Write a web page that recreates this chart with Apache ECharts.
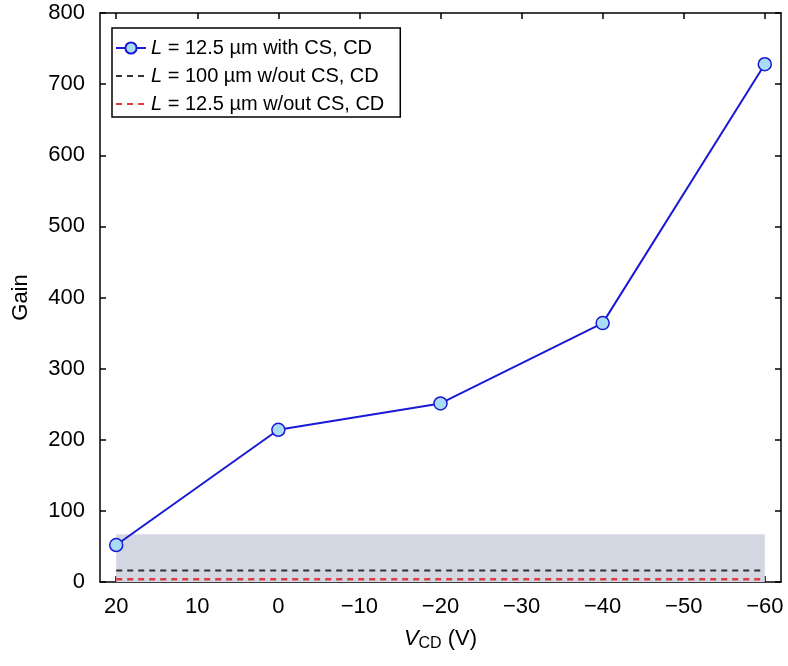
<!DOCTYPE html>
<html>
<head>
<meta charset="utf-8">
<script src="https://cdn.jsdelivr.net/npm/echarts@6/dist/echarts.min.js"></script>
<style>html,body{margin:0;padding:0;background:#fff}#c{width:788px;height:666px}</style>
</head>
<body>
<div id="c"></div>
<script>
const vcd = [20, 0, -20, -40, -60];
const gainWithCS = [52, 214, 251, 364, 728];
const gain100NoCS = 16;
const gain125NoCS = 4;
const bandTop = 67;
const xTicks = [20, 10, 0, -10, -20, -30, -40, -50, -60];
const yTicks = [0, 100, 200, 300, 400, 500, 600, 700, 800];
const seriesNames = ['L = 12.5 µm with CS, CD', 'L = 100 µm w/out CS, CD', 'L = 12.5 µm w/out CS, CD'];

const font = 'Liberation Sans, Arial, Helvetica, sans-serif';
const chart = echarts.init(document.getElementById('c'));
const xLine = (v) => [[vcd[0], v], [vcd[vcd.length - 1], v]];

const axisLineStyle = { show: true, onZero: false, lineStyle: { color: '#000', width: 1.5 } };
const baseX = {
  type: 'value', min: -62, max: 22, inverse: true,
  axisLine: axisLineStyle,
  splitLine: { show: false },
  axisTick: { show: true, inside: true, length: 6, lineStyle: { color: '#000', width: 1.5 }, customValues: xTicks },
};
const baseY = {
  type: 'value', min: 0, max: 800,
  axisLine: axisLineStyle,
  splitLine: { show: false },
  axisTick: { show: true, inside: true, length: 6, lineStyle: { color: '#000', width: 1.5 }, customValues: yTicks },
};

const legendFont = 20;
chart.setOption({
  animation: false,
  backgroundColor: '#fff',
  textStyle: { fontFamily: font },
  grid: { left: 100, right: 7, top: 13, bottom: 84 },
  legend: {
    data: [
      { name: seriesNames[0] },
      { name: seriesNames[1], itemStyle: { opacity: 0 } },
      { name: seriesNames[2], itemStyle: { opacity: 0 } },
    ],
    orient: 'vertical',
    left: 112, top: 28,
    padding: [10, 16, 3, 3],
    itemGap: 8,
    itemWidth: 30, itemHeight: 14,
    borderColor: '#000', borderWidth: 1.5, borderRadius: 0,
    backgroundColor: '#fff',
    textStyle: {
      fontSize: legendFont, color: '#000', fontFamily: font, lineHeight: 20,
      rich: { i: { fontStyle: 'italic', fontSize: legendFont, fontFamily: font, color: '#000', lineHeight: 20 } }
    },
    formatter: (n) => '{i|L}' + n.slice(1),
  },
  xAxis: [
    Object.assign({}, baseX, {
      position: 'bottom',
      axisLabel: { show: true, fontSize: 22, color: '#000', margin: 14, customValues: xTicks,
        formatter: (v) => (v < 0 ? '\u2212' + (-v) : String(v)) },
      name: '{i|V}{s|CD} (V)',
      nameLocation: 'middle', nameGap: 44,
      nameTextStyle: { fontSize: 22, color: '#000', fontFamily: font,
        rich: { i: { fontStyle: 'italic', fontSize: 22, color: '#000', fontFamily: font },
                s: { fontSize: 16, color: '#000', verticalAlign: 'bottom', padding: [10, 0, 0, 0], fontFamily: font } } },
    }),
    Object.assign({}, baseX, { position: 'top', axisLabel: { show: false } }),
  ],
  yAxis: [
    Object.assign({}, baseY, {
      position: 'left',
      axisLabel: { show: true, fontSize: 22, color: '#000', margin: 15, customValues: yTicks },
      name: 'Gain', nameLocation: 'middle', nameGap: 68,
      nameTextStyle: { fontSize: 22, color: '#000', fontFamily: font },
    }),
    Object.assign({}, baseY, { position: 'right', axisLabel: { show: false } }),
  ],
  series: [
    {
      name: 'band', type: 'line', data: [], silent: true,
      markArea: {
        silent: true,
        itemStyle: { color: '#d3d7e1' },
        data: [[{ coord: [vcd[0], 0] }, { coord: [vcd[vcd.length - 1], bandTop] }]],
      },
      z: 1,
    },
    {
      name: seriesNames[1], type: 'line', data: xLine(gain100NoCS), symbol: 'none',
      lineStyle: { color: '#333', width: 2, type: [6, 5] }, itemStyle: { color: '#333' }, z: 2,
    },
    {
      name: seriesNames[2], type: 'line', data: xLine(gain125NoCS), symbol: 'none',
      lineStyle: { color: '#dd3b44', width: 2.5, type: [6, 5] }, itemStyle: { color: '#dd3b44' }, z: 2,
    },
    {
      name: seriesNames[0], type: 'line',
      data: vcd.map((x, i) => [x, gainWithCS[i]]),
      symbol: 'circle', symbolSize: 13,
      lineStyle: { color: '#1a1ad6', width: 2 },
      itemStyle: { color: '#a9ddf7', borderColor: '#1a1ad6', borderWidth: 1.5 },
      z: 5,
    },
  ],
});
</script>
</body>
</html>
